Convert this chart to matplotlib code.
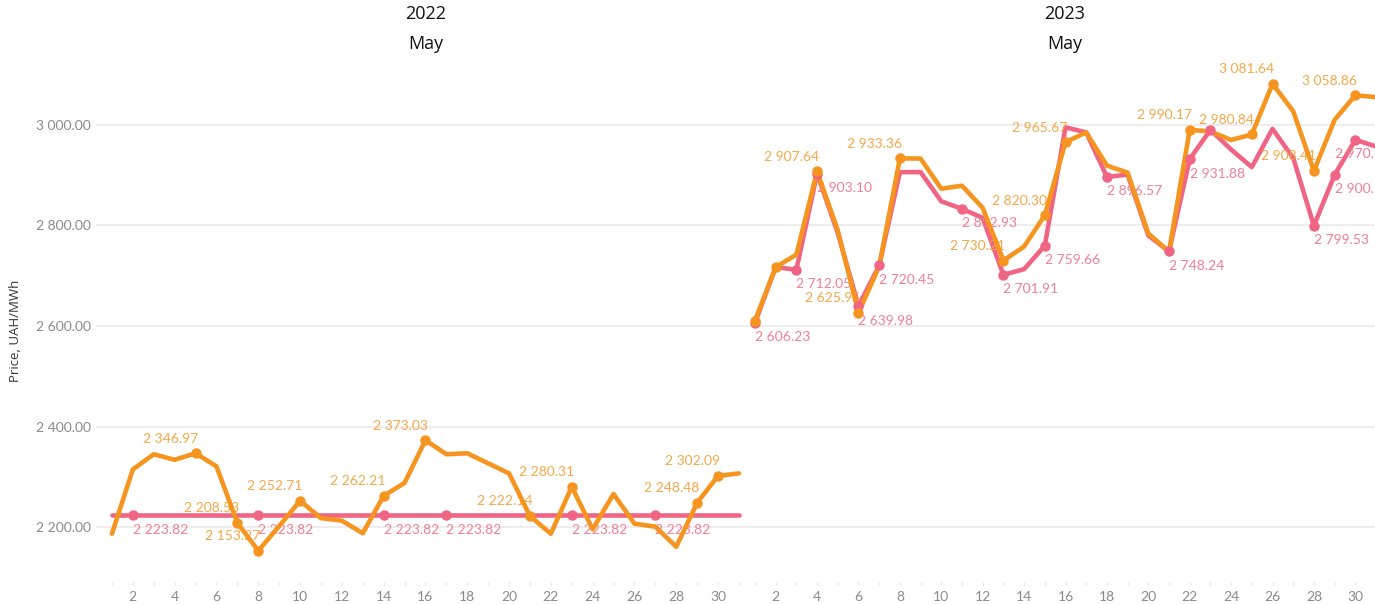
import numpy as np
import matplotlib
matplotlib.use('Agg')
import matplotlib.pyplot as plt

plt.rcParams['font.family'] = ['Lato', 'DejaVu Sans']

days = list(range(1, 32))
years = ['2022', '2023']
month = 'May'

# 2022
orange_22 = [2187, 2315, 2345, 2334, 2346.97, 2321, 2208.53, 2153.27, 2202, 2252.71,
             2218, 2213, 2188, 2262.21, 2288, 2373.03, 2345, 2347, 2327, 2307,
             2222.14, 2187, 2280.31, 2196, 2266, 2207, 2201, 2161, 2248.48, 2302.09, 2307]
pink_22 = [2223.82] * 31
orange_22_marks = [5, 7, 8, 10, 14, 16, 21, 23, 29, 30]
pink_22_marks = [2, 8, 14, 17, 23, 27]

# 2023
orange_23 = [2610.85, 2717.17, 2742, 2907.64, 2790, 2625.95, 2719, 2933.36, 2933, 2873,
             2879, 2835, 2730.21, 2758, 2820.30, 2965.67, 2985, 2919, 2905, 2784,
             2748, 2990.17, 2987, 2970, 2980.84, 3081.64, 3027, 2908.41, 3010, 3058.86, 3055]
pink_23 = [2606.23, 2717, 2712.05, 2903.10, 2785, 2639.98, 2720.45, 2906, 2906, 2848,
           2832.93, 2815, 2701.91, 2713, 2759.66, 2995, 2985, 2896.57, 2901, 2780,
           2748.24, 2931.88, 2990, 2951, 2916, 2992, 2934, 2799.53, 2900.52, 2970.14, 2957]
orange_23_marks = [1, 2, 4, 6, 8, 13, 15, 16, 22, 25, 26, 28, 30]
pink_23_marks = [1, 3, 4, 6, 7, 11, 13, 15, 18, 21, 22, 23, 28, 29, 30]
pink_23_nolabel = [23]

yticks = [2200, 2400, 2600, 2800, 3000]

ORANGE = '#F5951F'
PINK = '#F06583'
ORANGE_TXT = '#F6A748'
PINK_TXT = '#F27E97'
GRID = '#ededed'


def fmt(v):
    return '{:,.2f}'.format(v).replace(',', ' ')


fig = plt.figure(figsize=(13.75, 6.04), dpi=100)
W, H = 1375., 604.
bot, top = 582, 62
ax1 = fig.add_axes([103.6 / W, 1 - bot / H, 643.7 / W, (bot - top) / H])
ax2 = fig.add_axes([746.7 / W, 1 - bot / H, 637.6 / W, (bot - top) / H])


def panel(ax, org, pnk, omarks, pmarks, year, nolab=(), first=False):
    ax.plot(days, pnk, color=PINK, lw=3.3, solid_capstyle='round', zorder=3)
    ax.plot(days, org, color=ORANGE, lw=3.3, solid_capstyle='round', zorder=4)
    ax.plot(pmarks, [pnk[d - 1] for d in pmarks], 'o', color=PINK, ms=6.5, zorder=5)
    ax.plot(omarks, [org[d - 1] for d in omarks], 'o', color=ORANGE, ms=6.5, zorder=6)
    for d in omarks:
        v = org[d - 1]
        if year == '2023' and d <= 2:
            ax.annotate(fmt(v), (0.5, v), xytext=(0, 10.5), textcoords='offset points',
                        ha='left', va='center', color=ORANGE_TXT, fontsize=10)
        else:
            ax.annotate(fmt(v), (d, v), xytext=(1.5, 10.5), textcoords='offset points',
                        ha='right', va='center', color=ORANGE_TXT, fontsize=10)
    for d in pmarks:
        if d in nolab:
            continue
        v = pnk[d - 1]
        x = d - 1 if (year == '2023' and d >= 30) else d
        ax.annotate(fmt(v), (x, v), xytext=(0, -10.5), textcoords='offset points',
                    ha='left', va='center', color=PINK_TXT, fontsize=10)
    ax.set_xlim(0.6, 31.4)
    ax.set_ylim(2091, 3125)
    ax.set_yticks(yticks)
    ax.grid(axis='y', color=GRID, lw=1.4)
    ax.set_axisbelow(True)
    for s in ax.spines.values():
        s.set_visible(False)
    ax.set_xticks(days)
    ax.set_xticklabels([str(d) if d % 2 == 0 else '' for d in days])
    ax.tick_params(axis='x', length=2.5, width=0.8, color='#e4e4e4', labelcolor='#8a8a8a',
                   labelsize=10, pad=4)
    if first:
        ax.set_yticklabels([fmt(t) for t in yticks])
        ax.tick_params(axis='y', length=6, width=1.4, color=GRID, labelcolor='#8a8a8a',
                       labelsize=10, pad=3)
    else:
        ax.tick_params(axis='y', left=False, labelleft=False)
    cx = (ax.get_position().x0 + ax.get_position().x1) / 2
    if year == '2023':
        cx = 1065 / W
    fig.text(cx, 1 - 14 / H, year, ha='center', va='center', fontsize=13,
             color='#111111', family=['Open Sans', 'DejaVu Sans'])
    fig.text(cx, 1 - 44 / H, month, ha='center', va='center', fontsize=13,
             color='#111111', family=['Open Sans', 'DejaVu Sans'])


panel(ax1, orange_22, pink_22, orange_22_marks, pink_22_marks, '2022', first=True)
panel(ax2, orange_23, pink_23, orange_23_marks, pink_23_marks, '2023', nolab=pink_23_nolabel)

fig.text(16 / W, 1 - 331 / H, 'Price, UAH/MWh', rotation=90, ha='center', va='center',
         fontsize=9.5, color='#333333', family=['Open Sans', 'DejaVu Sans'])

fig.savefig('out.png', dpi=100)
